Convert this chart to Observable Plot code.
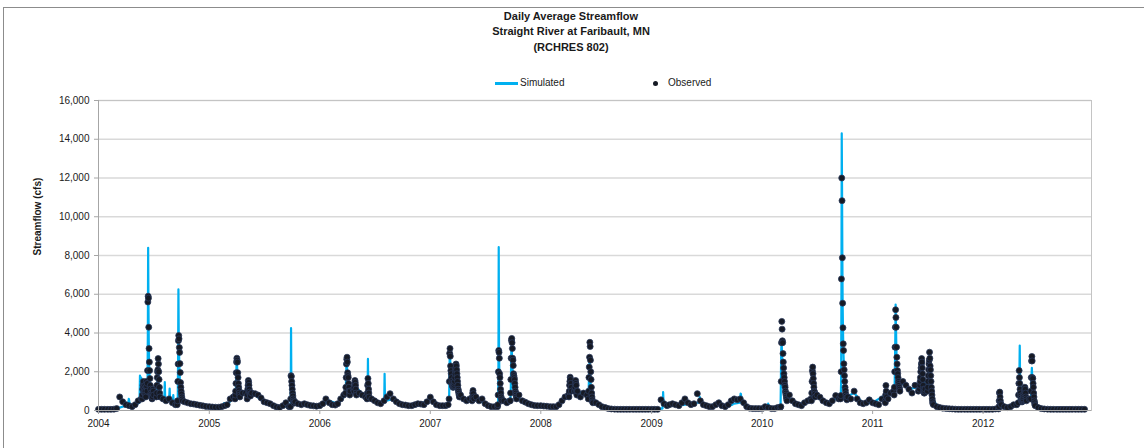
<!DOCTYPE html>
<html>
<head>
<meta charset="utf-8">
<script src="https://cdn.jsdelivr.net/npm/d3@7"></script>
<script src="https://cdn.jsdelivr.net/npm/@observablehq/plot@0.6"></script>
<style>
  body { margin: 0; background: #fff; width: 1144px; height: 448px; overflow: hidden; position: relative;
         font-family: "Liberation Sans", Arial, sans-serif; color: #1a1a1a; }
  #frame { position: absolute; left: 3px; top: 7px; width: 1150px; height: 460px; border: 1px solid #8c8c8c; box-sizing: border-box; }
  #title { position: absolute; left: 0; top: 9px; width: 1142px; text-align: center; font-weight: bold; font-size: 11px; line-height: 15.3px; }
  #legend { position: absolute; left: 0; top: 76px; width: 1144px; height: 14px; font-size: 10px; }
  #legend .sw-line { position: absolute; left: 495px; top: 5.5px; width: 23px; height: 3px; background: #00b0f0; }
  #legend .sw-dot { position: absolute; left: 652.5px; top: 4.5px; width: 5px; height: 5px; border-radius: 50%; background: #161a24; }
  #legend .lab { position: absolute; top: 0; line-height: 14px; }
  #chart { position: absolute; left: 0; top: 90px; }
</style>
</head>
<body>
<div id="frame"></div>
<div id="title">Daily Average Streamflow<br>Straight River at Faribault, MN<br>(RCHRES 802)</div>
<div id="legend">
  <span class="sw-line"></span><span class="lab" style="left:520px">Simulated</span>
  <span class="sw-dot"></span><span class="lab" style="left:668px">Observed</span>
</div>
<div id="chart"></div>
<script>
// ---------- data (cfs) ----------
const yearTicks = [2004, 2005, 2006, 2007, 2008, 2009, 2010, 2011, 2012];
const flowTicks = [0, 2000, 4000, 6000, 8000, 10000, 12000, 14000, 16000];

// Observed: three readings per month (1st, 11th, 21st), Jan 2004 .. Dec 1 2012
const obsTriMonthly = [
  /*2004*/ 60,60,60, 60,60,70, 100,700,450, 300,250,200, 300,500,600, 1100,1500,800, 800,1500,700, 600,500,600, 400,300,1500, 600,450,400, 350,330,300, 270,240,210,
  /*2005*/ 200,180,170, 170,200,250, 300,600,700, 1100,1000,900, 900,1000,900, 870,800,650, 450,400,350, 250,180,150, 250,400,200, 700,450,350, 300,350,300, 260,240,220,
  /*2006*/ 250,350,600, 400,300,280, 350,600,800, 1300,1000,1100, 1000,900,800, 700,1100,600, 500,400,350, 500,700,870, 600,450,350, 300,280,250, 250,300,350, 330,300,450,
  /*2007*/ 690,450,300, 250,250,250, 300,2000,2000, 1500,800,600, 500,600,900, 700,500,600, 350,250,200, 200,200,2000, 500,400,500, 1500,1200,800, 500,430,350, 300,260,250,
  /*2008*/ 250,230,220, 200,200,200, 300,500,700, 800,1000,1000, 1000,700,900, 800,1000,400, 400,300,200, 150,100,80, 70,60,60, 60,60,60, 60,60,60, 60,60,60,
  /*2009*/ 60,60,60, 550,350,250, 300,350,300, 250,400,600, 400,300,350, 870,500,300, 250,200,200, 300,400,250, 200,300,500, 600,550,600, 400,200,120, 100,100,100,
  /*2010*/ 100,200,150, 100,100,150, 150,3000,1000, 800,500,350, 300,250,400, 500,600,1000, 800,690,500, 400,350,500, 770,600,1000, 1000,700,600, 1000,600,400, 350,400,550,
  /*2011*/ 400,350,300, 600,500,600, 900,1000,1000, 1000,1500,1300, 1100,900,1300, 1000,2000,1000, 1000,1500,300, 200,150,120, 100,90,80, 70,60,60, 60,60,60, 60,60,60,
  /*2012*/ 60,60,60, 60,80,80, 300,200,150, 200,300,300, 500,500,500, 600,500,250, 150,100,80, 70,60,60, 60,60,60, 60,60,60, 60,60,60, 60
];

// Observed storm events: first day and daily values
const obsEventStarts = [
  "2004-05-24","2004-07-10","2004-09-17","2005-03-27","2005-05-06","2005-09-26","2006-03-27","2006-04-24","2006-06-06",
  "2007-03-04","2007-05-19","2007-08-12","2007-09-22","2008-04-03","2008-04-22","2008-06-06","2010-03-04","2010-06-13",
  "2010-09-17","2011-02-12","2011-03-13","2011-06-05","2011-07-02","2012-02-22","2012-04-26","2012-06-06"
];
const obsEventDaily = [
  [600,800,1100,1300,1500,1200,1000,900,1100,1300,1000,800,700,1200,1500,1250,1000,1400,2060,5600,5900,5800,4300,3200,2500,2060,1650,1300,1100,900,800,700,650,600,700,900,1100,1000],
  [700,900,1300,1700,2000,2100,2680,2400,2000,1600,1200,900,700],
  [300,500,1500,2400,3600,3870,3700,3250,3000,2420,1960,1440,1200,1000,850,700,600,500],
  [600,800,1000,1400,1950,2500,2700,2600,2500,1950,1700,1400,1200,1030,900,800,700],
  [600,800,1100,1300,1550,1450,1300,1100,950,850,800,750],
  [200,600,1800,1750,1500,1300,1100,900,750,600,500,420,380],
  [900,1200,1700,2400,2650,2750,2500,1950,1800,1700,1400,1200,1000,900,800],
  [1000,1200,1400,1550,1450,1300,1100,900,800],
  [600,900,1300,1650,1400,1100,900,700],
  [600,1500,2950,3200,2800,2300,2060,1900,1700,1500,1400,1300,1250,1200,1200,1250,1300,1400,1500,1700,1900,2100,2200,2400,2300,2100,1900,1700,1500,1300,1100,1000,900,800,700],
  [500,700,900,1030,870,700,600],
  [300,800,2000,3100,3000,2700,1900,1700,1400,1100,900,700,600,500],
  [500,900,1600,2700,3620,3720,3500,3200,2700,2600,2320,1900,1800,1700,1600,1400,1200,1000,900,800,700,600],
  [700,1000,1300,1500,1720,1600,1400,1200,1000],
  [1000,1200,1400,1550,1400,1300,1000,800],
  [600,1000,1700,2240,2750,3520,3300,2600,2000,1600,1200,900,700,550,450],
  [200,1500,3500,4600,4200,3600,3500,2940,2500,2200,1900,1700,1500,1300,1200,1000,900,800,700,600,500],
  [500,900,1500,2050,2240,1900,1650,1400,1200,1000,950,850,700],
  [600,770,2000,6790,12000,10830,7880,5540,4270,3440,3100,2410,2100,1800,1500,1200,1030,870,750,650,600,550],
  [400,800,1290,1000,700],
  [800,1200,2000,3270,4300,5200,4800,4300,3270,2750,2400,2060,1900,1700,1500,1400,1300,1200,1100,1000],
  [1100,1300,1500,1700,2000,2200,2400,2680,2500,2200,1900,1600,1300,1100,1000,900,900,1000,1100],
  [1200,1500,1800,2100,2400,2600,3010,2700,2300,2100,1800,1500,1200,1000,800,600,450,350],
  [200,500,900,950,700,500,350],
  [400,800,1400,2060,1700,1400,1100,900,750,650,550,500,450,450,500,550,600,700,800,900,1000,1100,1200,1100,900,700,600,500],
  [600,1000,1700,2560,2790,2560,1700,1650,1400,1200,900,700,500,400,300]
];

// Simulated: first-of-month readings, Jan 2004 .. Dec 2012
const simMonthly = [
  /*2004*/ 60,60,100,250,300,1000,700,600,400,500,330,250,
  /*2005*/ 200,170,300,1000,900,800,450,250,200,600,300,250,
  /*2006*/ 250,500,350,1200,1200,700,500,450,600,300,250,330,
  /*2007*/ 600,250,300,1300,500,600,350,200,500,1500,450,300,
  /*2008*/ 250,200,300,800,1000,800,400,150,70,60,60,60,
  /*2009*/ 60,100,300,250,400,400,250,300,200,350,300,100,
  /*2010*/ 80,100,150,600,300,500,700,400,600,700,900,350,
  /*2011*/ 400,700,900,1500,1100,1200,1300,250,100,70,60,60,
  /*2012*/ 60,60,250,200,800,600,200,80,60,60,60,60
];

// Simulated storm events: first day and daily values
const simEventStarts = [
  "2004-04-08","2004-05-15","2004-06-10","2004-07-13","2004-08-05","2004-08-21","2004-09-03","2004-09-18",
  "2005-02-18","2005-03-29","2005-05-09","2005-09-26","2006-03-27","2006-06-07","2006-08-01",
  "2007-03-04","2007-03-24","2007-05-20","2007-08-12","2007-09-23","2008-04-03","2008-04-23","2008-06-06",
  "2009-02-06","2009-04-22","2009-06-08","2009-08-12","2009-09-25","2009-10-20",
  "2010-01-20","2010-03-03","2010-06-14","2010-09-18","2011-03-14","2011-06-10","2011-07-04",
  "2012-02-22","2012-04-28","2012-06-07"
];
const simEventDaily = [
  [300,450,600,550,400,300],
  [400,900,1800,1600,1200,1000,1700,1400,1100,900],
  [1000,1500,4000,8400,5500,3600,2600,2000,1600,1300,1100,900],
  [800,1500,2100,1700,1200,900],
  [600,900,1460,800,600],
  [500,800,1130,700,500],
  [400,800,500],
  [300,800,3000,6250,4000,3000,2400,1900,1400,1100,900,700,600],
  [170,380,250],
  [800,1200,1800,2400,2600,2200,1800,1400,1100,900],
  [700,1000,1300,1400,1200,1000,900],
  [200,400,4250,1500,1000,800,600,500,400],
  [800,1200,1800,2400,2500,2200,1800,1500,1300,1100],
  [600,1000,2660,1300,900,700],
  [400,700,1890,900,600,500],
  [500,1500,2800,3000,2500,2000,1700,1500,1300,1200],
  [1500,2000,2300,2100,1800,1500,1200,1000,800],
  [500,800,1000,900,700,500],
  [200,400,2000,8430,3000,2000,1500,1100,900,700,600],
  [600,1200,2500,3300,3200,2800,2400,2000,1800,1600,1400,1200,1000,900,800],
  [700,1000,1300,1500,1400,1200,1000,900],
  [1000,1200,1400,1300,1100,900,800],
  [600,1000,1600,2200,2500,2300,1900,1500,1200,900,700,550],
  [100,400,950,600,400,300],
  [300,500,600,500,400],
  [400,700,600,450],
  [300,500,400],
  [300,500,400,350],
  [400,700,870,850,700,500,400],
  [100,350,300,150],
  [200,1500,3000,3440,3300,2800,2500,2200,1900,1700,1500,1300,1100,900,800,700],
  [600,1000,1600,1500,1300,1100,950,850],
  [700,1500,6000,14300,11500,8000,5500,4300,3400,2800,2300,1900,1600,1300,1100,900,800,700],
  [1000,1500,2500,3800,5470,4500,3600,2800,2300,2000,1800,1700,1600,1500],
  [1500,1800,2200,2400,2200,1800,1500],
  [1500,2000,2500,2800,2600,2200,1800,1400,1100,800],
  [100,400,900,700,400,200],
  [400,900,2000,3350,1800,1200,900,700,600],
  [600,1000,1800,2200,1800,1400,1100,800,600,400]
];

// ---------- assemble series ----------
const DAY = 864e5;
const triDays = [1, 11, 21];
function buildSeries(base, dateOf, starts, daily) {
  const windows = [], pts = [];
  starts.forEach((s, k) => {
    const t0 = Date.parse(s);
    daily[k].forEach((v, j) => pts.push({date: new Date(t0 + j * DAY), flow: v}));
    windows.push([t0, t0 + (daily[k].length - 1) * DAY]);
  });
  const basePts = base.map((v, i) => ({date: dateOf(i), flow: v}))
    .filter(p => !windows.some(([a, b]) => +p.date >= a && +p.date <= b));
  return basePts.concat(pts).sort((a, b) => a.date - b.date);
}
const observed = buildSeries(obsTriMonthly,
  i => new Date(Date.UTC(2004 + Math.floor(i / 36), Math.floor((i % 36) / 3), triDays[i % 3])),
  obsEventStarts, obsEventDaily);
const simulated = buildSeries(simMonthly,
  i => new Date(Date.UTC(2004 + Math.floor(i / 12), i % 12, 1)),
  simEventStarts, simEventDaily);

const xStart = new Date(Date.UTC(2004, 0, 1));
const xEnd = new Date(Date.UTC(2012, 11, 24));
const yearDates = yearTicks.map(y => new Date(Date.UTC(y, 0, 1)));

const chart = Plot.plot({
  width: 1144,
  height: 358,
  marginLeft: 98,
  marginRight: 53,
  marginTop: 10,
  marginBottom: 38,
  style: {fontFamily: '"Liberation Sans", Arial, sans-serif', fontSize: "10px", color: "#1a1a1a", background: "transparent"},
  x: {type: "utc", domain: [xStart, xEnd]},
  y: {domain: [0, 16000]},
  marks: [
    Plot.ruleY(flowTicks.slice(1), {stroke: "#d9d9d9", strokeWidth: 1.3}),
    Plot.line(simulated, {x: "date", y: "flow", stroke: "#00b0f0", strokeWidth: 2.2, curve: "linear"}),
    Plot.dot(observed, {x: "date", y: "flow", r: 3, fill: "#161a24", stroke: "#2b3a5a", strokeWidth: 0.8}),
    Plot.frame({stroke: "#c4c4c4"}),
    Plot.ruleY([0], {stroke: "#a6a6a6"}),
    Plot.ruleX([xStart], {stroke: "#a6a6a6"}),
    Plot.axisX({ticks: yearDates, tickFormat: d3.utcFormat("%Y"), tickSize: 4, tickPadding: 5, stroke: "#a6a6a6", fill: "#1a1a1a", label: null}),
    Plot.axisY({ticks: flowTicks, tickFormat: d3.format(","), tickSize: 4, tickPadding: 5, stroke: "#a6a6a6", fill: "#1a1a1a", label: null}),
    Plot.text(["Streamflow (cfs)"], {frameAnchor: "left", dx: -61, rotate: -90, fontWeight: "bold", fontSize: 10, fill: "#1a1a1a"})
  ]
});
document.getElementById("chart").appendChild(chart);
</script>
</body>
</html>
